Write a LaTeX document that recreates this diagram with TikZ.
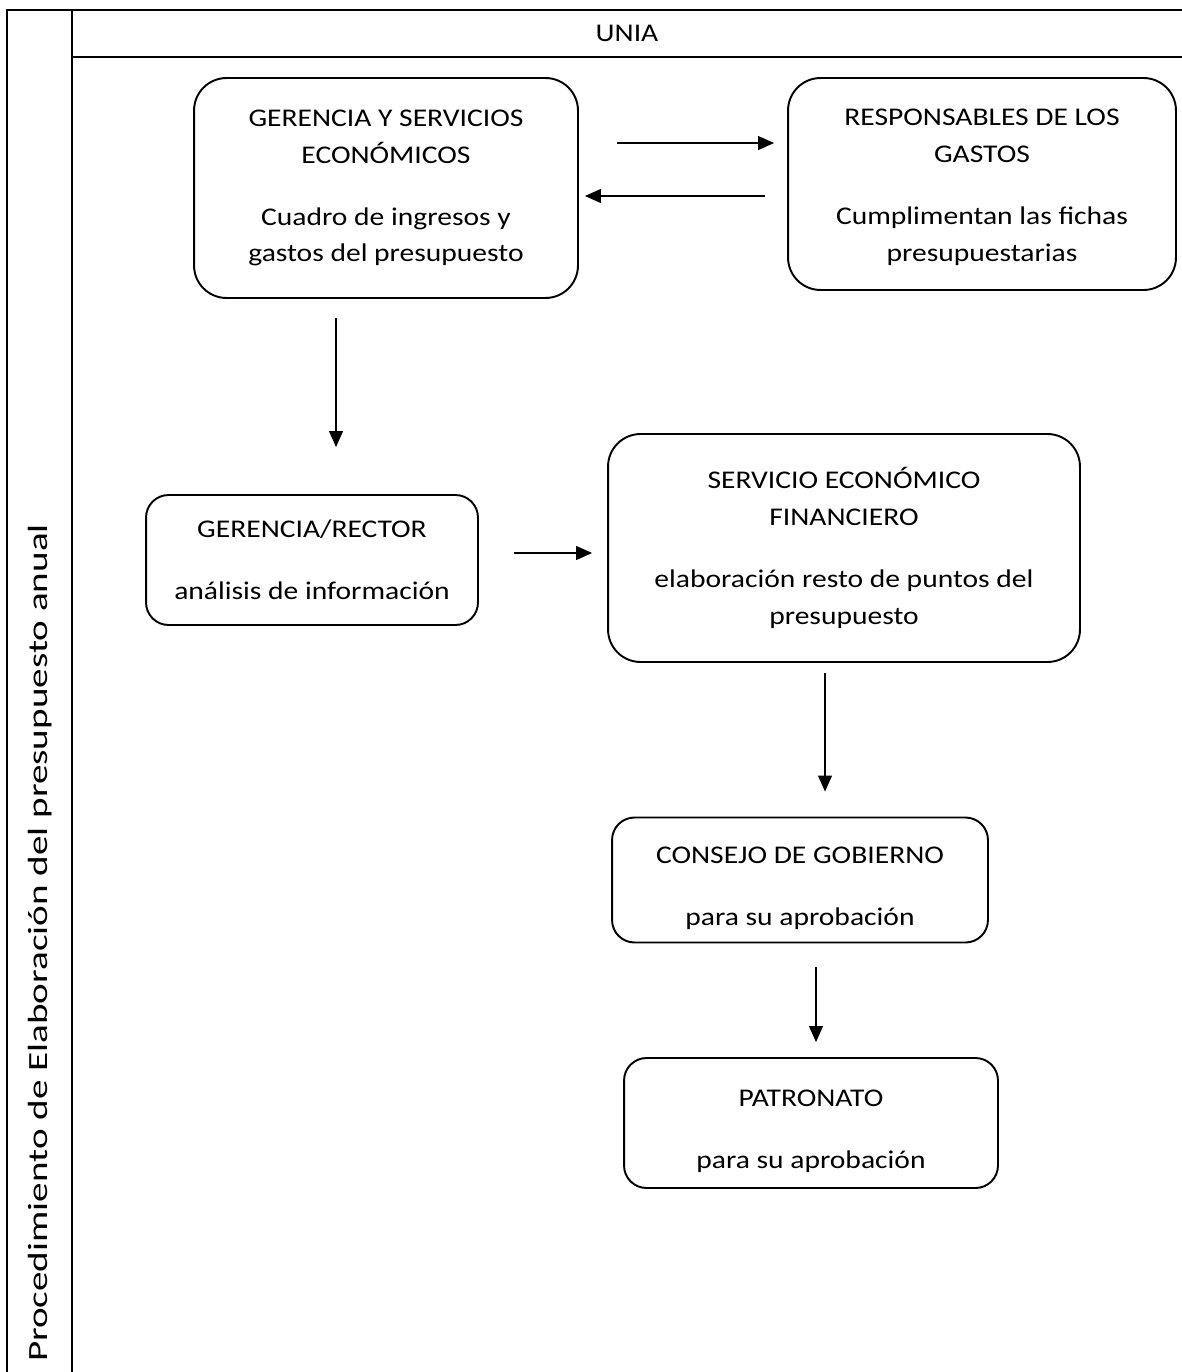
\documentclass[tikz,border=0pt]{standalone}
\usepackage{fontspec}
\setmainfont{Carlito}[FakeStretch=1.16]
\newfontfamily\vertfont{Carlito}[FakeStretch=1.41]
\usepackage{tikz}
\usetikzlibrary{arrows.meta}
\tikzstyle{box} = [rectangle, rounded corners=0.65cm, draw=black, line width=1.1pt, text centered, align=center, inner sep=0pt]
\tikzstyle{smallbox} = [rectangle, rounded corners=0.45cm, draw=black, line width=1.1pt, text centered, align=center, inner sep=0pt]
\tikzstyle{arrow} = [line width=0.6pt,-{Triangle[length=0.32cm,width=0.28cm]}]
\tikzstyle{frame} = [line width=1.1pt]

\begin{document}
\begin{tikzpicture}[x=0.02cm, y=-0.02cm, font=\fontsize{14.5}{21}\selectfont]
\useasboundingbox (0,0) rectangle (1182,1372);
\draw [frame] (7,1372) -- (7,10) -- (1182,10);
\draw [frame] (72,10) -- (72,1372);
\draw [frame] (72,57) -- (1182,57);
\node (unia) at (627,33) {UNIA};
\node (proc) [rotate=90, font=\vertfont\fontsize{15.8}{21}\selectfont] at (40,943) {Procedimiento de Elaboración del presupuesto anual};

\node (ger) [box, minimum width=7.68cm, minimum height=4.4cm] at (386,188) {GERENCIA Y SERVICIOS\\ECONÓMICOS\\[0.5cm]Cuadro de ingresos y\\gastos del presupuesto};
\node (resp) [box, minimum width=7.76cm, minimum height=4.24cm] at (982,184) {\rule{0pt}{13pt}RESPONSABLES DE LOS\\GASTOS\\[0.5cm]Cumplimentan las fichas\\presupuestarias};
\node (rector) [smallbox, minimum width=6.64cm, minimum height=2.6cm] at (312,560) {GERENCIA/RECTOR\\[0.5cm]análisis de información};
\node (sef) [box, minimum width=9.44cm, minimum height=4.56cm] at (844,548) {SERVICIO ECONÓMICO\\FINANCIERO\\[0.5cm]elaboración resto de puntos del\\presupuesto};
\node (consejo) [smallbox, minimum width=7.52cm, minimum height=2.5cm] at (800,880) {\rule{0pt}{19pt}CONSEJO DE GOBIERNO\\[0.5cm]para su aprobación};
\node (patro) [smallbox, minimum width=7.48cm, minimum height=2.6cm] at (811,1123) {\rule{0pt}{19pt}PATRONATO\\[0.5cm]para su aprobación};

%---------------------------------ARROWS
\draw [arrow, shorten <=0.76cm, shorten >=0.26cm] ([yshift=0.9cm]ger.east) -- ([yshift=0.9cm]ger.east -| resp.west);
\draw [arrow, shorten <=0.44cm, shorten >=0.12cm] ([yshift=-0.16cm]ger.east -| resp.west) -- ([yshift=-0.16cm]ger.east);
\draw [arrow, shorten <=0.38cm, shorten >=0.94cm] ([xshift=-1cm]ger.south) -- ([xshift=-1cm]ger.south |- rector.north);
\draw [arrow, shorten <=0.7cm, shorten >=0.3cm] ([yshift=0.14cm]rector.east) -- ([yshift=0.14cm]rector.east -| sef.west);
\draw [arrow, shorten <=0.2cm, shorten >=0.5cm] ([xshift=-0.38cm]sef.south) -- ([xshift=-0.38cm]sef.south |- consejo.north);
\draw [arrow, shorten <=0.48cm, shorten >=0.3cm] ([xshift=0.32cm]consejo.south) -- ([xshift=0.32cm]consejo.south |- patro.north);

\end{tikzpicture}
\end{document}
